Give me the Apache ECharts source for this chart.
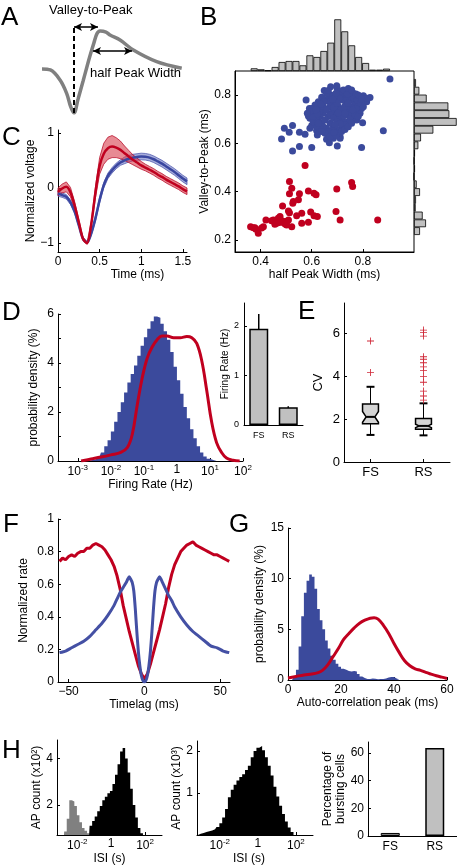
<!DOCTYPE html>
<html><head><meta charset="utf-8">
<script src="https://cdn.jsdelivr.net/npm/echarts@6/dist/echarts.min.js"></script>
<style>html,body{margin:0;padding:0;background:#fff}#c{width:457px;height:867px}</style>
</head><body><div id="c"></div><script>
// ---------------- DATA ----------------
// A: schematic waveform
const aTime = [0, 0.09, 0.194, 0.265, 0.308, 0.344, 0.387, 0.441, 0.484, 0.516, 0.559, 0.591, 0.624, 0.688, 0.731, 0.839, 0.982, 1.233, 1.502];
const aVolt = [-0.168, -0.187, -0.376, -0.628, -0.88, -1.0, -0.74, -0.40, -0.12, 0.08, 0.33, 0.50, 0.55, 0.53, 0.474, 0.38, 0.19, -0.03, -0.155];
// B: half peak width (ms), valley-to-peak (ms)
const bFS = [[0.574,0.508],[0.513,0.442],[0.522,0.414],[0.513,0.391],[0.552,0.391],[0.587,0.403],[0.609,0.393],[0.617,0.387],[0.528,0.359],[0.526,0.352],[0.548,0.366],[0.486,0.341],[0.509,0.320],[0.513,0.313],[0.561,0.311],[0.596,0.316],[0.609,0.300],[0.622,0.297],[0.541,0.300],[0.695,0.318],[0.711,0.283],[0.858,0.283],[0.698,0.411],[0.756,0.438],[0.760,0.421],[0.421,0.283],[0.443,0.280],[0.450,0.283],[0.460,0.280],[0.469,0.290],[0.476,0.297],[0.483,0.280],[0.489,0.272],[0.496,0.276],[0.502,0.276],[0.509,0.283],[0.463,0.269],[0.456,0.265],[0.522,0.255],[0.561,0.269],[0.587,0.273],[0.411,0.255],[0.404,0.249],[0.391,0.228],[0.378,0.251],[0.361,0.255],[0.372,0.251],[0.382,0.244],[0.496,0.266],[0.473,0.272],[0.502,0.262]];
const bRS = [[0.906,0.867],[0.880,0.652],[0.795,0.583],[0.700,0.589],[0.600,0.583],[0.552,0.587],[0.525,0.569],[0.482,0.618],[0.493,0.663],[0.525,0.674],[0.512,0.646],[0.552,0.646],[0.574,0.638],[0.593,0.663],[0.600,0.674],[0.619,0.653],[0.622,0.635],[0.658,0.617],[0.669,0.603],[0.678,0.635],[0.711,0.628],[0.711,0.621],[0.578,0.780],[0.591,0.745],[0.587,0.714],[0.593,0.704],[0.613,0.725],[0.622,0.741],[0.632,0.755],[0.649,0.819],[0.661,0.784],[0.669,0.773],[0.698,0.839],[0.700,0.828],[0.711,0.814],[0.717,0.803],[0.730,0.794],[0.737,0.801],[0.763,0.808],[0.750,0.780],[0.769,0.766],[0.782,0.755],[0.795,0.794],[0.802,0.797],[0.808,0.783],[0.828,0.790],[0.815,0.773],[0.795,0.745],[0.789,0.725],[0.776,0.732],[0.799,0.686],[0.776,0.697],[0.763,0.704],[0.743,0.690],[0.737,0.718],[0.724,0.736],[0.704,0.752],[0.695,0.780],[0.685,0.766],[0.672,0.752],[0.652,0.745],[0.645,0.725],[0.632,0.711],[0.626,0.697],[0.639,0.683],[0.652,0.697],[0.665,0.711],[0.678,0.725],[0.691,0.732],[0.698,0.718],[0.711,0.704],[0.724,0.690],[0.730,0.676],[0.717,0.663],[0.698,0.656],[0.685,0.669],[0.672,0.683],[0.658,0.663],[0.645,0.669],[0.632,0.663],[0.619,0.672],[0.606,0.690],[0.617,0.708],[0.630,0.732],[0.643,0.755],[0.658,0.739],[0.672,0.718],[0.685,0.704],[0.698,0.690],[0.711,0.681],[0.724,0.714],[0.737,0.739],[0.750,0.752],[0.756,0.725],[0.769,0.718],[0.782,0.711],[0.750,0.700],[0.734,0.766],[0.721,0.780],[0.708,0.787],[0.687,0.794],[0.675,0.801],[0.658,0.808],[0.639,0.791],[0.626,0.773],[0.613,0.759],[0.600,0.745],[0.606,0.711],[0.593,0.732],[0.622,0.722],[0.687,0.750],[0.700,0.766],[0.715,0.739],[0.728,0.752],[0.739,0.783],[0.752,0.797],[0.765,0.787],[0.778,0.780],[0.791,0.766],[0.802,0.752],[0.773,0.745],[0.760,0.739],[0.743,0.766],[0.730,0.725],[0.704,0.727],[0.691,0.676],[0.678,0.653],[0.665,0.649],[0.652,0.642],[0.639,0.649],[0.704,0.642],[0.717,0.649],[0.730,0.658],[0.743,0.669],[0.756,0.683],[0.695,0.808],[0.724,0.821],[0.739,0.805],[0.773,0.805],[0.674,0.835],[0.665,0.819],[0.682,0.783],[0.648,0.773],[0.636,0.763],[0.617,0.739],[0.583,0.725],[0.626,0.683],[0.685,0.621],[0.672,0.628],[0.695,0.635],[0.687,0.645],[0.743,0.828],[0.756,0.821],[0.782,0.801],[0.815,0.787],[0.795,0.783]];
const bTopBins = ['b1','b2','b3','b4','b5','b6','b7','b8','b9','b10','b11','b12','b13','b14','b15','b16','b17','b18','b19','b20'];
const bTopHist = [8,5,2,12,27,30,30,17,47,42,60,85,155,119,77,42,24,4,4,7];
const bRightBins = ['r1','r2','r3','r4','r5','r6','r7','r8','r9','r10','r11','r12','r13','r14','r15','r16','r17','r18','r19','r20'];
const bRightHist = [6,16,38,103,106,128,58,21,13,3,1,3,0,8,18,6,5,26,36,18];
// C: mean waveforms with bands
const cTime = [0,0.05,0.1,0.15,0.2,0.25,0.3,0.35,0.4,0.45,0.5,0.55,0.6,0.65,0.7,0.75,0.8,0.85,0.9,0.95,1.0,1.05,1.1,1.15,1.2,1.25,1.3,1.35,1.4,1.45,1.5,1.55];
const cRedMean = [-0.07,-0.01,0.02,-0.08,-0.32,-0.62,-0.92,-1.0,-0.65,-0.08,0.40,0.62,0.72,0.75,0.73,0.69,0.63,0.57,0.51,0.46,0.41,0.37,0.33,0.29,0.24,0.20,0.15,0.11,0.07,0.03,-0.02,-0.06];
const cRedUp = [0,0.07,0.11,0.01,-0.25,-0.57,-0.89,-0.98,-0.60,0.02,0.55,0.81,0.92,0.95,0.91,0.85,0.76,0.68,0.60,0.54,0.48,0.43,0.39,0.35,0.30,0.26,0.21,0.17,0.13,0.09,0.04,0];
const cRedLo = [-0.14,-0.09,-0.07,-0.16,-0.39,-0.67,-0.95,-1.02,-0.70,-0.18,0.25,0.43,0.52,0.55,0.55,0.53,0.50,0.46,0.42,0.38,0.34,0.31,0.27,0.23,0.18,0.14,0.09,0.05,0.01,-0.03,-0.08,-0.12];
const cBlueMean = [-0.10,-0.13,-0.16,-0.26,-0.43,-0.68,-0.92,-0.99,-0.82,-0.55,-0.22,0.05,0.22,0.32,0.40,0.46,0.50,0.53,0.55,0.56,0.57,0.565,0.55,0.52,0.48,0.44,0.39,0.34,0.29,0.23,0.17,0.12];
const cBlueUp = [-0.05,-0.09,-0.12,-0.22,-0.40,-0.66,-0.90,-0.97,-0.78,-0.50,-0.17,0.10,0.27,0.37,0.45,0.51,0.56,0.59,0.61,0.62,0.63,0.625,0.61,0.58,0.54,0.50,0.45,0.40,0.35,0.29,0.23,0.18];
const cBlueLo = [-0.15,-0.17,-0.20,-0.30,-0.46,-0.70,-0.94,-1.01,-0.86,-0.60,-0.27,0,0.17,0.27,0.35,0.41,0.44,0.47,0.49,0.50,0.51,0.505,0.49,0.46,0.42,0.38,0.33,0.28,0.23,0.17,0.11,0.06];
// D: firing rate distributions (log10 Hz)
const dBinLog = [-2.75,-2.65,-2.55,-2.45,-2.35,-2.25,-2.15,-2.05,-1.95,-1.85,-1.75,-1.65,-1.55,-1.45,-1.35,-1.25,-1.15,-1.05,-0.95,-0.85,-0.75,-0.65,-0.55,-0.45,-0.35,-0.25,-0.15,-0.05,0.05,0.15,0.25,0.35,0.45,0.55,0.65,0.75,0.85,0.95,1.05,1.15,1.25];
const dBlueHist = [0,0.02,0.04,0.07,0.15,0.35,0.6,0.85,1.2,1.6,2.0,2.4,2.8,3.2,3.55,3.9,4.3,4.7,5.05,5.4,5.7,5.9,5.85,5.6,5.3,4.95,4.45,3.85,3.3,2.75,2.2,1.75,1.3,0.93,0.6,0.35,0.18,0.09,0.04,0.02,0];
const dRedLog = [-2.9,-2.6,-2.3,-2.0,-1.7,-1.5,-1.35,-1.2,-1.05,-0.9,-0.75,-0.6,-0.45,-0.3,-0.1,0.1,0.3,0.45,0.6,0.75,0.9,1.05,1.2,1.35,1.5,1.7,1.9];
const dRedDens = [0,0.08,0.16,0.25,0.35,0.55,1.1,2.3,3.4,4.2,4.65,4.95,5.1,5.1,5.03,5.03,5.08,5.03,4.8,4.1,2.9,1.6,0.75,0.35,0.12,0.03,0];
const dTickLog = [-3,-2,-1,0,1,2];
const dInsetCats = ['FS','RS'];
const dInsetRate = [1.94, 0.36];
const dInsetErr = [0.3, 0.02];
// E: CV box plots
const eCats = ['FS','RS'];
const eBoxes = [[1.26,1.78,2.1,2.7,3.5],[1.24,1.52,1.68,2.02,2.73]]; // low, q1, median, q3, high
const eNotch = [[1.85,2.35],[1.6,1.76]];
const eOutFS = [4.17, 5.63];
const eOutRS = [2.88,3.07,3.30,3.71,3.97,4.25,4.43,4.62,4.78,4.90,5.86,6.02,6.14];
// F: normalized auto-correlograms
const fRedLag = [-56,-54,-52,-50,-48,-46,-44,-42,-40,-38,-36,-34,-32,-30,-28,-26,-24,-22,-20,-18,-16,-14,-12,-10,-8,-6,-4,-2,0,2,4,6,8,10,12,14,16,18,20,22,24,26,28,30,32,34,36,38,40,42,44,46,48,50,52,54,56];
const fRed = [0.74,0.76,0.75,0.77,0.78,0.77,0.79,0.80,0.80,0.82,0.82,0.84,0.85,0.84,0.83,0.81,0.78,0.75,0.71,0.65,0.57,0.47,0.39,0.31,0.24,0.17,0.10,0.05,0.02,0.05,0.11,0.18,0.25,0.32,0.40,0.48,0.58,0.66,0.72,0.76,0.80,0.82,0.84,0.85,0.86,0.84,0.83,0.82,0.81,0.80,0.79,0.78,0.78,0.77,0.76,0.75,0.74];
const fBlueLag = [-56,-52,-48,-44,-40,-36,-32,-28,-24,-20,-18,-16,-14,-12,-11,-10,-9,-8,-7,-6,-5,-4,-3,-2,-1,0,1,2,3,4,5,6,7,8,9,10,11,12,14,16,18,20,24,28,32,36,40,44,48,52,56];
const fBlue = [0.18,0.19,0.21,0.23,0.25,0.28,0.32,0.36,0.41,0.47,0.51,0.55,0.58,0.61,0.63,0.645,0.63,0.61,0.56,0.45,0.31,0.19,0.10,0.04,0.01,0.0,0.01,0.04,0.10,0.19,0.31,0.45,0.56,0.61,0.63,0.645,0.63,0.61,0.57,0.53,0.50,0.46,0.40,0.35,0.31,0.28,0.25,0.22,0.21,0.19,0.18];
// G: auto-correlation peak distributions
const gBinMs = [1.5,2.5,3.5,4.5,5.5,6.5,7.5,8.5,9.5,10.5,11.5,12.5,13.5,14.5,15.5,16.5,17.5,18.5,19.5,20.5,21.5,22.5,23.5,24.5,25.5,26.5,27.5,28.5,29.5,30.5,31.5,32.5,33.5,34.5,35.5,36.5,37.5,38.5,39.5,40.5,41.5,42.5];
const gBlue = [0,0.2,1.0,3.3,6.3,8.6,9.8,10.4,10.2,9.0,7.0,5.9,5.0,3.9,3.1,2.4,2.0,1.6,1.3,1.1,1.0,0.9,0.85,0.9,0.85,0.6,0.35,0.2,0.1,0.1,0.15,0.12,0.08,0.1,0.1,0.15,0.25,0.3,0.3,0.15,0.05,0];
const gRedMs = [0,3,6,9,11,13,15,17,19,21,23,25,27,29,31,32.5,34,36,38,40,42,44,46,48,50,52,54,56,58,60];
const gRed = [0.2,0.35,0.5,0.6,0.7,0.95,1.5,2.3,3.1,4.0,4.6,5.15,5.6,5.9,6.1,6.15,6.0,5.4,4.6,3.6,2.7,1.9,1.4,1.1,0.95,0.75,0.58,0.42,0.28,0.15];
// H: ISI histograms (log10 s) and bursting percentages
const h1GrayLog = [-2.85,-2.7,-2.55,-2.4,-2.25,-2.1,-1.95,-1.8,-1.65,-1.5,-1.35,-1.2];
const h1Gray = [0,0.85,1.4,2.2,2.15,1.95,1.55,1.25,1.0,0.88,0.78,0];
const h1BlackLog = [-1.35,-1.2,-1.05,-0.9,-0.75,-0.6,-0.45,-0.3,-0.15,0,0.15,0.3,0.45,0.6,0.75,0.9,1.05,1.2,1.35,1.5,1.65,1.8,1.95];
const h1Black = [0,1.1,1.3,1.5,1.72,1.95,2.2,2.35,2.5,2.6,2.9,3.3,3.75,4.3,4.45,4.0,3.4,2.7,2.0,1.45,1.0,0.78,0];
const h2Log = [-3.15,-3.0,-2.85,-2.7,-2.55,-2.4,-2.25,-2.1,-1.95,-1.8,-1.65,-1.5,-1.35,-1.2,-1.05,-0.9,-0.75,-0.6,-0.45,-0.3,-0.15,0,0.15,0.3,0.45,0.6,0.75,0.9,1.05,1.2,1.35,1.5,1.65,1.8,1.95];
const h2Black = [0,0.03,0.05,0.07,0.09,0.11,0.14,0.19,0.28,0.42,0.62,0.9,1.08,1.2,1.3,1.38,1.45,1.55,1.65,1.85,2.0,2.08,2.12,2.02,1.85,1.65,1.42,1.15,0.92,0.7,0.5,0.32,0.18,0.07,0];
const hTickLog = [-2,0,2];
const h3Cats = ['FS','RS'];
const h3Pct = [2.2, 63.6];

// ---------------- STYLE / HELPERS ----------------
const FONT = '"Liberation Sans", Arial, Helvetica, sans-serif';
const BLUE = '#3b4a9c', RED = '#c0001f', GRAY = '#c0c0c0';
const MINUS = s => String(s).replace('-', '\u2212');
const logFmt = v => v === 0 ? '{b|1}' : '{b|10}{s|' + v + '}';
const logRich = (fs) => ({b: {fontSize: fs, fontFamily: FONT, color: '#000'}, s: {fontSize: Math.round(fs * 0.68), fontFamily: FONT, color: '#000', padding: [0, 0, 7, 0]}});

function vAx(gi, min, max, labels, o) {
  o = o || {};
  const ax = {
    type: 'value', gridIndex: gi, min: min, max: max,
    axisLine: {show: true, onZero: false, lineStyle: {color: '#000', width: 1}},
    axisTick: {show: true, inside: true, length: 3, customValues: o.ticks || labels, lineStyle: {color: '#000', width: 1}},
    axisLabel: {show: true, customValues: labels, color: '#000', fontSize: o.fs || 12, fontFamily: FONT, margin: o.margin == null ? 4 : o.margin},
    splitLine: {show: false},
    name: o.name || '', nameLocation: 'middle', nameGap: o.gap || 10,
    nameTextStyle: {color: '#000', fontSize: o.nfs || 12, fontFamily: FONT, padding: o.pad || 0, lineHeight: o.lh || null}
  };
  if (o.fmt) ax.axisLabel.formatter = o.fmt;
  if (o.rich) ax.axisLabel.rich = o.rich;
  return ax;
}
function cAx(gi, data, o) {
  o = o || {};
  return {
    type: 'category', gridIndex: gi, data: data, boundaryGap: true,
    axisLine: {show: true, onZero: false, lineStyle: {color: '#000', width: 1}},
    axisTick: {show: o.tick !== false, inside: true, alignWithLabel: true, length: 3, lineStyle: {color: '#000'}},
    axisLabel: {color: '#000', fontSize: o.fs || 12, fontFamily: FONT, margin: o.margin || 5},
    splitLine: {show: false}
  };
}
const hid = (gi, type, min, max, o) => Object.assign({type: type, gridIndex: gi, min: min, max: max, show: false}, o || {});
const pairs = (xs, ys) => xs.map((x, i) => [x, ys[i]]);
function stepArea(i, xs, ys, color) {
  return {type: 'line', xAxisIndex: i, yAxisIndex: i, step: 'middle', symbol: 'none', silent: true,
    data: pairs(xs, ys), lineStyle: {width: 0}, itemStyle: {color: color},
    areaStyle: {color: color, opacity: 1, origin: 'start'}};
}
function band(i, xs, up, lo, fill, stroke) {
  return {type: 'custom', xAxisIndex: i, yAxisIndex: i, silent: true, data: [[xs[0], up[0]]],
    renderItem: function (params, api) {
      const pts = [];
      for (let k = 0; k < xs.length; k++) pts.push(api.coord([xs[k], up[k]]));
      for (let k = xs.length - 1; k >= 0; k--) pts.push(api.coord([xs[k], lo[k]]));
      return {type: 'polygon', shape: {points: pts}, style: {fill: fill, stroke: stroke, lineWidth: 0.8}};
    }};
}
const grid = (l, t, w, h, extra) => Object.assign({left: l, top: t, width: w, height: h, outerBoundsMode: 'none'}, extra || {});
const PLUS = 'path://M0,4.4H10V5.6H0Z M4.4,0H5.6V10H4.4Z';

const option = {
  animation: false,
  backgroundColor: '#fff',
  textStyle: {fontFamily: FONT},
  grid: [
    grid(42, 25, 140, 88),                 // 0 A
    grid(235, 71, 179, 181, {show: true, borderColor: '#000', borderWidth: 1, backgroundColor: 'transparent'}), // 1 B
    grid(250.7, 19, 139.3, 52),            // 2 B top hist
    grid(414, 79, 43, 156),                // 3 B right hist
    grid(58, 130, 129, 122),               // 4 C
    grid(58, 314, 185, 147),               // 5 D
    grid(244, 303, 59, 122),               // 6 D inset
    grid(344, 303, 106, 159),              // 7 E
    grid(58, 519, 172, 163),               // 8 F
    grid(288, 528, 159, 152),              // 9 G
    grid(57, 740, 105, 95),                // 10 H1
    grid(197, 741, 116, 94),               // 11 H2
    grid(368, 742, 89, 94)                 // 12 H3
  ],
  xAxis: [
    hid(0, 'value', 0, 1.505),
    vAx(1, 0.3, 1.0, [0.4, 0.6, 0.8], {name: 'half Peak Width (ms)', gap: 16}),
    hid(2, 'category', null, null, {data: bTopBins, boundaryGap: true}),
    hid(3, 'value', 0, 129),
    vAx(4, 0, 1.55, [0, 0.5, 1, 1.5], {name: 'Time (ms)', gap: 8, pad: [0, 0, 0, 30]}),
    vAx(5, -3.6, 2, dTickLog, {name: 'Firing Rate (Hz)', gap: 16, fmt: logFmt, rich: logRich(12), margin: 3}),
    cAx(6, dInsetCats, {fs: 9, tick: false, margin: 6}),
    cAx(7, eCats, {fs: 13, margin: 4}),
    vAx(8, -57, 56.5, [-50, 0, 50], {name: 'Timelag (ms)', gap: 14, fmt: MINUS}),
    vAx(9, 0, 60, [0, 20, 40, 60], {name: 'Auto-correlation peak (ms)', gap: 17}),
    vAx(10, -3.2, 3, hTickLog, {name: 'ISI (s)', gap: 15, fmt: logFmt, rich: logRich(12), margin: 3}),
    vAx(11, -3.2, 2.9, hTickLog, {name: 'ISI (s)', gap: 15, fmt: logFmt, rich: logRich(12), margin: 3, pad: [0, 12, 0, 0]}),
    cAx(12, h3Cats, {fs: 12, tick: false, margin: 5})
  ],
  yAxis: [
    hid(0, 'value', -1, 0.663),
    vAx(1, 0.15, 0.9, [0.2, 0.4, 0.6, 0.8], {name: 'Valley-to-Peak (ms)', gap: 21}),
    hid(2, 'value', 0, 156),
    hid(3, 'category', null, null, {data: bRightBins, inverse: true, boundaryGap: true}),
    vAx(4, -1.16, 1.05, [-1, 0, 1], {name: 'Normalized voltage', gap: 20, fmt: MINUS}),
    vAx(5, 0, 6, [0, 2, 4, 6], {name: 'probability density (%)', gap: 18, ticks: [0, 1, 2, 3, 4, 5, 6]}),
    vAx(6, 0, 2.46, [0, 1, 2], {name: 'Firing Rate (Hz)', gap: 12, fs: 9, nfs: 10, margin: 5}),
    vAx(7, 0, 7.4, [0, 2, 4, 6], {name: 'CV', gap: 19, fs: 13, nfs: 13}),
    vAx(8, 0, 1, [0, 0.2, 0.4, 0.6, 0.8, 1], {name: 'Normalized rate', gap: 28}),
    vAx(9, 0, 15, [0, 5, 10, 15], {name: 'probability density (%)', gap: 22}),
    vAx(10, 0.7, 4.8, [2, 4], {name: 'AP count (x10\u00b2)', gap: 13}),
    vAx(11, 0, 2.24, [1, 2], {name: 'AP count (x10\u00b3)', gap: 10}),
    vAx(12, 0, 68, [0, 20, 40, 60], {name: 'Percentage of\nbursting cells', gap: 20, lh: 13})
  ],
  series: [
    // A
    {type: 'line', xAxisIndex: 0, yAxisIndex: 0, data: pairs(aTime, aVolt), smooth: 0.35, symbol: 'none',
      lineStyle: {color: '#808080', width: 3.5}, silent: true,
      markLine: {silent: true, symbol: ['none', 'none'], label: {show: false},
        data: [[{coord: [0.344, -1.0]}, {coord: [0.344, 0.663]}]],
        lineStyle: {color: '#000', width: 2, type: [5, 3]}}},
    {type: 'line', xAxisIndex: 0, yAxisIndex: 0, data: [], symbol: 'none',
      markLine: {silent: true, symbol: ['arrow', 'arrow'], symbolSize: [6, 8], label: {show: false},
        lineStyle: {color: '#000', width: 1.5, type: 'solid'},
        data: [[{coord: [0.344, 0.626]}, {coord: [0.602, 0.626]}], [{coord: [0.548, 0.172]}, {coord: [0.968, 0.172]}]]}},
    // B
    {type: 'scatter', xAxisIndex: 1, yAxisIndex: 1, data: bRS, symbolSize: 7, itemStyle: {color: BLUE, opacity: 1}},
    {type: 'scatter', xAxisIndex: 1, yAxisIndex: 1, data: bFS, symbolSize: 7, itemStyle: {color: RED, opacity: 1}},
    {type: 'bar', xAxisIndex: 2, yAxisIndex: 2, data: bTopHist, barCategoryGap: '0%',
      itemStyle: {color: GRAY, borderColor: '#000', borderWidth: 0.8}},
    {type: 'bar', xAxisIndex: 3, yAxisIndex: 3, data: bRightHist, barCategoryGap: '0%',
      itemStyle: {color: GRAY, borderColor: '#000', borderWidth: 0.8}},
    // C
    band(4, cTime, cBlueUp, cBlueLo, 'rgba(95,105,190,0.55)', 'rgba(70,80,170,0.9)'),
    {type: 'line', xAxisIndex: 4, yAxisIndex: 4, data: pairs(cTime, cBlueMean), smooth: 0.3, symbol: 'none', lineStyle: {color: '#3a46a0', width: 2.5}},
    band(4, cTime, cRedUp, cRedLo, 'rgba(215,60,75,0.6)', 'rgba(180,0,30,0.9)'),
    {type: 'line', xAxisIndex: 4, yAxisIndex: 4, data: pairs(cTime, cRedMean), smooth: 0.3, symbol: 'none', lineStyle: {color: RED, width: 2.5}},
    // D
    stepArea(5, dBinLog, dBlueHist, BLUE),
    {type: 'line', xAxisIndex: 5, yAxisIndex: 5, data: pairs(dRedLog, dRedDens), smooth: 0.4, symbol: 'none', lineStyle: {color: RED, width: 3}},
    {type: 'bar', xAxisIndex: 6, yAxisIndex: 6, data: dInsetRate, barWidth: 19,
      itemStyle: {color: GRAY, borderColor: '#000', borderWidth: 1.5}},
    {type: 'custom', xAxisIndex: 6, yAxisIndex: 6, data: dInsetCats.map((c, i) => [i, dInsetRate[i], dInsetErr[i]]),
      encode: {x: 0, y: 1},
      renderItem: function (params, api) {
        const c = api.value(0), m = api.value(1), e = api.value(2);
        const p1 = api.coord([c, m - e]), p2 = api.coord([c, m + e]);
        return {type: 'line', shape: {x1: p1[0], y1: p1[1], x2: p2[0], y2: p2[1]}, style: {stroke: '#000', lineWidth: 1.5}};
      }},
    // E
    {type: 'custom', xAxisIndex: 7, yAxisIndex: 7,
      data: eBoxes.map((b, i) => [i].concat(b).concat(eNotch[i])),
      encode: {x: 0, y: [1, 2, 3, 4, 5]},
      renderItem: function (params, api) {
        const c = api.value(0);
        const lo = api.value(1), q1 = api.value(2), md = api.value(3), q3 = api.value(4), hi = api.value(5), n1 = api.value(6), n2 = api.value(7);
        const xc = api.coord([c, md])[0];
        const Y = v => api.coord([c, v])[1];
        const half = api.size([1, 0])[0] * 0.15, nh = half * 0.55, cap = half * 0.5;
        const pts = [[xc - half, Y(q1)], [xc - half, Y(n1)], [xc - nh, Y(md)], [xc - half, Y(n2)], [xc - half, Y(q3)],
          [xc + half, Y(q3)], [xc + half, Y(n2)], [xc + nh, Y(md)], [xc + half, Y(n1)], [xc + half, Y(q1)]];
        const ln = (x1, y1, x2, y2, w) => ({type: 'line', shape: {x1: x1, y1: y1, x2: x2, y2: y2}, style: {stroke: '#000', lineWidth: w}});
        return {type: 'group', children: [
          ln(xc, Y(q3), xc, Y(hi), 1), ln(xc, Y(q1), xc, Y(lo), 1),
          ln(xc - cap, Y(hi), xc + cap, Y(hi), 2), ln(xc - cap, Y(lo), xc + cap, Y(lo), 2),
          {type: 'polygon', shape: {points: pts}, style: {fill: '#d4d4d4', stroke: '#000', lineWidth: 1.5}},
          ln(xc - nh, Y(md), xc + nh, Y(md), 2)
        ]};
      }},
    {type: 'scatter', xAxisIndex: 7, yAxisIndex: 7, data: eOutFS.map(v => [0, v]), symbol: PLUS, symbolSize: 7, itemStyle: {color: '#d02838', opacity: 1}},
    {type: 'scatter', xAxisIndex: 7, yAxisIndex: 7, data: eOutRS.map(v => [1, v]), symbol: PLUS, symbolSize: 7, itemStyle: {color: '#d02838', opacity: 1}},
    // F
    {type: 'line', xAxisIndex: 8, yAxisIndex: 8, data: pairs(fRedLag, fRed), symbol: 'none', lineStyle: {color: RED, width: 3}},
    {type: 'line', xAxisIndex: 8, yAxisIndex: 8, data: pairs(fBlueLag, fBlue), smooth: 0.2, symbol: 'none', lineStyle: {color: '#4450a4', width: 3}},
    // G
    stepArea(9, gBinMs, gBlue, BLUE),
    {type: 'line', xAxisIndex: 9, yAxisIndex: 9, data: pairs(gRedMs, gRed), smooth: 0.4, symbol: 'none', lineStyle: {color: RED, width: 3}},
    // H
    stepArea(10, h1GrayLog, h1Gray, '#808080'),
    stepArea(10, h1BlackLog, h1Black, '#000'),
    stepArea(11, h2Log, h2Black, '#000'),
    {type: 'bar', xAxisIndex: 12, yAxisIndex: 12, barWidth: 19,
      data: h3Pct.map((v, i) => ({value: v, itemStyle: {color: i === 0 ? '#808080' : GRAY, borderColor: '#000', borderWidth: i === 0 ? 1 : 1.5}})),
      itemStyle: {borderColor: '#000', borderWidth: 1.5}}
  ],
  graphic: [
    {type: 'text', left: 1, top: 5, style: {text: 'A', font: '26px ' + FONT, fill: '#000'}},
    {type: 'text', left: 200, top: 5, style: {text: 'B', font: '26px ' + FONT, fill: '#000'}},
    {type: 'text', left: 2, top: 125, style: {text: 'C', font: '26px ' + FONT, fill: '#000'}},
    {type: 'text', left: 2, top: 300, style: {text: 'D', font: '26px ' + FONT, fill: '#000'}},
    {type: 'text', left: 298, top: 299, style: {text: 'E', font: '26px ' + FONT, fill: '#000'}},
    {type: 'text', left: 3, top: 512, style: {text: 'F', font: '26px ' + FONT, fill: '#000'}},
    {type: 'text', left: 229, top: 512, style: {text: 'G', font: '26px ' + FONT, fill: '#000'}},
    {type: 'text', left: 2, top: 738, style: {text: 'H', font: '26px ' + FONT, fill: '#000'}},
    {type: 'text', left: 49, top: 4, style: {text: 'Valley-to-Peak', font: '13px ' + FONT, fill: '#000'}},
    {type: 'text', left: 90, top: 67, style: {text: 'half Peak Width', font: '13px ' + FONT, fill: '#000'}}
  ]
};
const chart = echarts.init(document.getElementById('c'), null, {renderer: 'canvas', width: 457, height: 867});
chart.setOption(option);
</script></body></html>
